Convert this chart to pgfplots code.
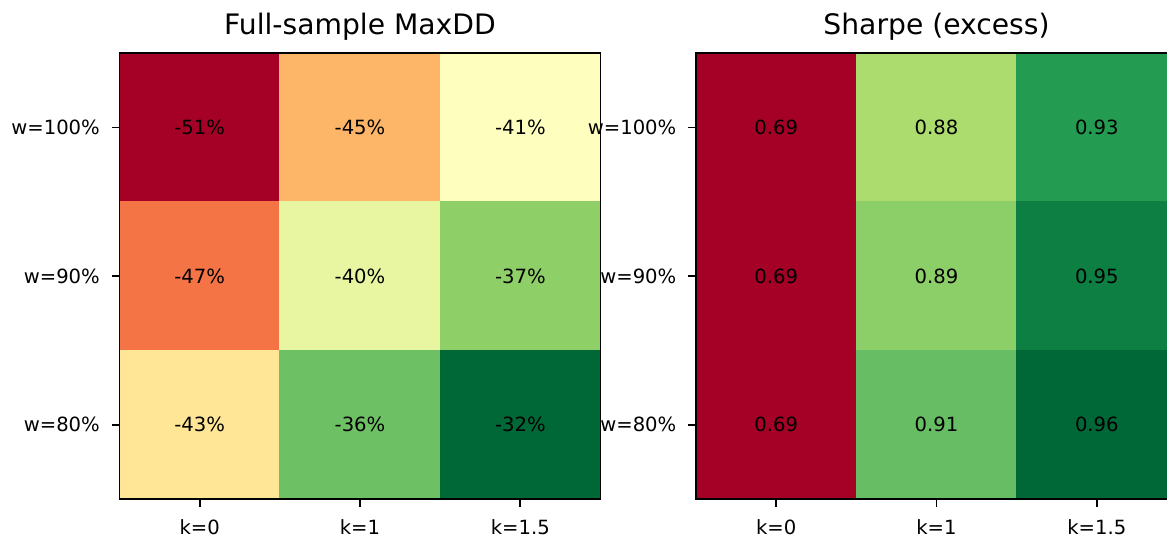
\documentclass[border=0pt]{standalone}
\usepackage{fontspec}
\setmainfont{DejaVu Sans}
\usepackage{pgfplots}
\usepackage{pgfplotstable}
\pgfplotsset{compat=1.18}

\pgfplotsset{colormap={mplrdylgn}{rgb255=(165,0,38) rgb255=(215,48,39) rgb255=(244,109,67) rgb255=(253,174,97) rgb255=(254,224,139) rgb255=(255,255,191) rgb255=(217,239,139) rgb255=(166,217,106) rgb255=(102,189,99) rgb255=(26,152,80) rgb255=(0,104,55)}}

\newcommand\tickfont{\fontsize{9.8pt}{11pt}\selectfont}

\pgfplotstableread{
x y c label
0 0 -51 {-51\%}
1 0 -45 {-45\%}
2 0 -41.45 {-41\%}
0 1 -47 {-47\%}
1 1 -40.4 {-40\%}
2 1 -37 {-37\%}
0 2 -43 {-43\%}
1 2 -36 {-36\%}
2 2 -32 {-32\%}
}\maxdd

\pgfplotstableread{
x y c label
0 0 0.69 0.69
1 0 0.876 0.88
2 0 0.93 0.93
0 1 0.69 0.69
1 1 0.89 0.89
2 1 0.947 0.95
0 2 0.69 0.69
1 2 0.906 0.91
2 2 0.96 0.96
}\sharpe

\pgfplotsset{hm/.style={
 scale only axis, width=240.5pt, height=222.85pt,
 xmin=-0.5,xmax=2.5,ymin=-0.5,ymax=2.5, y dir=reverse,
 enlargelimits=false,
 xtick={0,1,2}, ytick={0,1,2},
 xticklabels={{k=0},{k=1},{k=1.5}},
 yticklabels={{w=100\%},{w=90\%},{w=80\%}},
 tick pos=left, tick align=outside, major tick length=3.8pt,
 every tick/.style={black, line width=0.87pt},
 axis line style={line width=0.87pt, black},
 ticklabel style={font=\tickfont, text=black},
 xticklabel style={yshift=-3pt},
 yticklabel style={xshift=-2.5pt},
 colormap name=mplrdylgn,
 title style={font=\fontsize{14.1pt}{17pt}\selectfont, anchor=base, at={(0.5,1)}, yshift=3.2pt},
 axis on top,
}}

\begin{document}
\begin{tikzpicture}
\begin{axis}[hm, at={(59.75pt,-26.65pt)}, anchor=north west, title={Full-sample MaxDD}]
\addplot[matrix plot*, mesh/cols=3, point meta=explicit] table[x=x,y=y,meta=c]{\maxdd};
\addplot[only marks, mark=none, nodes near coords, point meta=explicit symbolic,
  nodes near coords style={anchor=center, font=\tickfont, text=black}] table[x=x,y=y,meta=label]{\maxdd};
\end{axis}
\begin{axis}[hm, at={(348pt,-26.65pt)}, anchor=north west, title={Sharpe (excess)}]
\addplot[matrix plot*, mesh/cols=3, point meta=explicit] table[x=x,y=y,meta=c]{\sharpe};
\addplot[only marks, mark=none, nodes near coords, point meta=explicit symbolic,
  nodes near coords style={anchor=center, font=\tickfont, text=black}] table[x=x,y=y,meta=label]{\sharpe};
\end{axis}
\pgfresetboundingbox
\path[use as bounding box] (0,0) rectangle (583.5pt,-268.5pt);
\end{tikzpicture}
\end{document}
